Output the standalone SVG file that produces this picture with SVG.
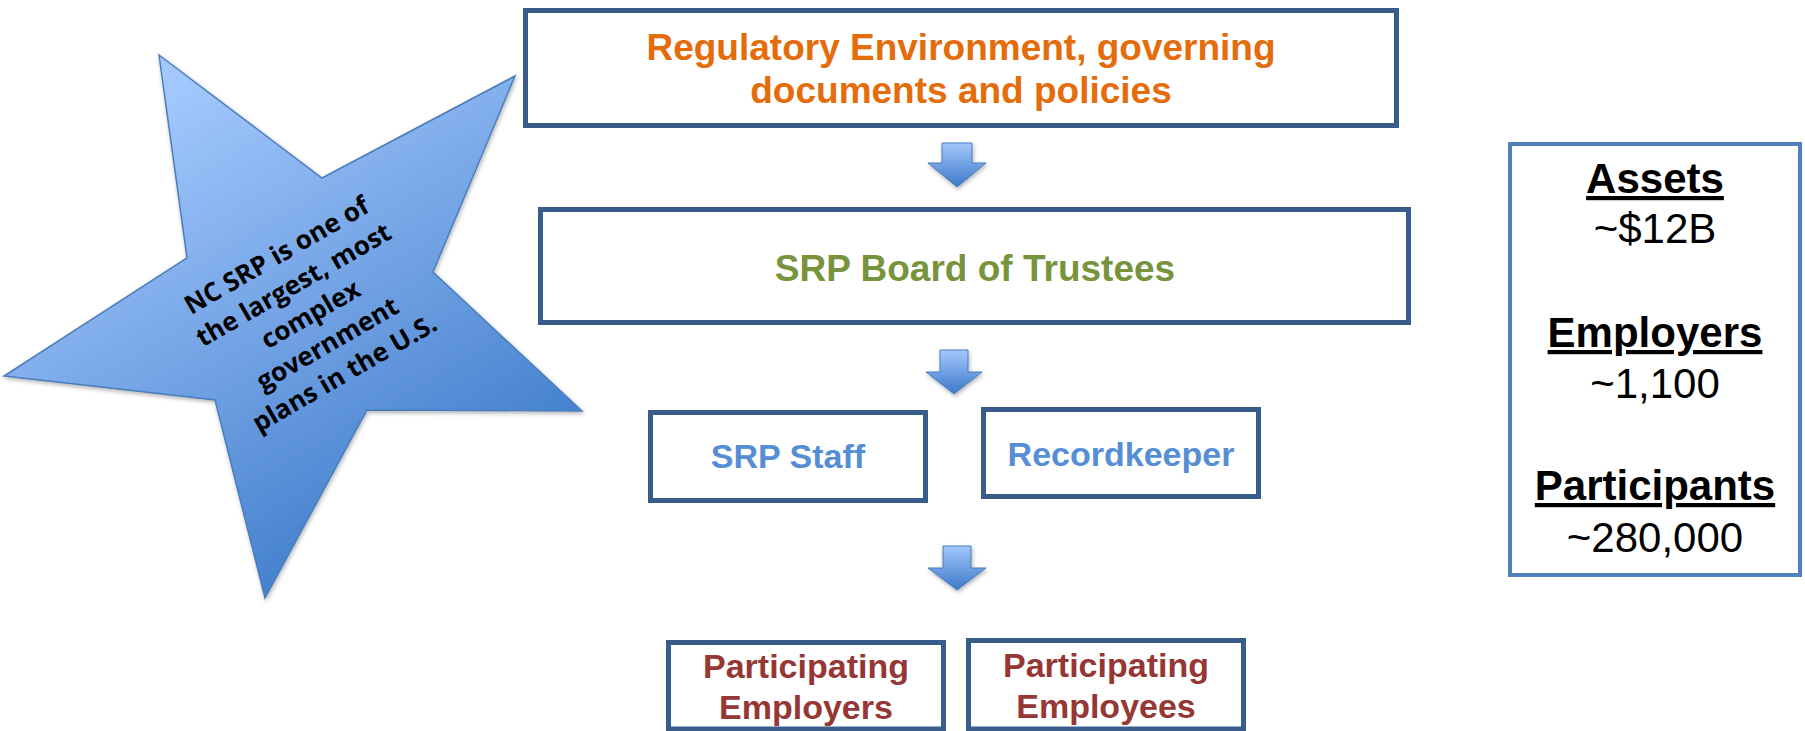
<svg xmlns="http://www.w3.org/2000/svg" width="1805" height="731" viewBox="0 0 1805 731">
<defs>
<linearGradient id="starGrad" gradientUnits="userSpaceOnUse" x1="170" y1="90" x2="440" y2="560">
<stop offset="0" stop-color="#a3c8fd"/>
<stop offset="1" stop-color="#3b79c9"/>
</linearGradient>
<linearGradient id="arrowGrad" x1="0" y1="0" x2="0" y2="1">
<stop offset="0" stop-color="#a3c8fd"/>
<stop offset="1" stop-color="#3b79c9"/>
</linearGradient>
<filter id="shadow" x="-10%" y="-10%" width="130%" height="130%">
<feDropShadow dx="1" dy="2" stdDeviation="2" flood-color="#000" flood-opacity="0.3"/>
</filter>
<style>
.box{fill:#fff;stroke:#385d8a;stroke-width:5}
.stat{fill:#fff;stroke:#4f81bd;stroke-width:4}
.arrow{fill:url(#arrowGrad);stroke:#4a7ebb;stroke-width:1;filter:url(#shadow)}
.t{font-family:"Liberation Sans",Arial,sans-serif;font-weight:bold;text-anchor:middle}
.orange{fill:#e46c0a;font-size:37px}
.green{fill:#77933c;font-size:37px}
.blue{fill:#558ed5;font-size:34px}
.red{fill:#953735;font-size:34px}
.sh{fill:#000;font-size:42px;text-decoration:underline}
.sv{font-family:"Liberation Sans",Arial,sans-serif;font-size:42px;fill:#000;text-anchor:middle}
.star{font-family:"Open Sans","Noto Sans",sans-serif;font-weight:bold;font-size:26px;fill:#000;text-anchor:middle}
</style>
</defs>

<g id="star">
<polygon points="159,55 322,178 515,76 433,272 582,411 367,410 265,598 215,400 4,376 187,258" fill="url(#starGrad)" stroke="#4a7ebb" stroke-width="1.5" filter="url(#shadow)"/>
<g transform="translate(315,322) rotate(-30)">
<text class="star" x="0" y="-68">NC SRP is one of</text>
<text class="star" x="0" y="-34">the largest, most</text>
<text class="star" x="0" y="0">complex</text>
<text class="star" x="0" y="34">government</text>
<text class="star" x="0" y="68">plans in the U.S.</text>
</g>
</g>

<g id="connectors">
<path class="arrow" d="M942,143 H972 V163 H986 L957,187 L928,163 H942 Z"/>
<path class="arrow" d="M940,350 H968 V372 H982 L954,394 L926,372 H940 Z"/>
<path class="arrow" d="M943,546 H971 V568 H986 L957,590 L928,568 H943 Z"/>
</g>

<g id="regulatory">
<rect class="box" x="525.5" y="10.5" width="871" height="115"/>
<text class="t orange" x="961" y="60">Regulatory Environment, governing</text>
<text class="t orange" x="961" y="103">documents and policies</text>
</g>

<g id="board">
<rect class="box" x="540.5" y="209.5" width="868" height="113"/>
<text class="t green" x="975" y="281">SRP Board of Trustees</text>
</g>

<g id="staff">
<rect class="box" x="650.5" y="412.5" width="275" height="88"/>
<text class="t blue" x="788" y="468">SRP Staff</text>
</g>

<g id="recordkeeper">
<rect class="box" x="983.5" y="409.5" width="275" height="87"/>
<text class="t blue" x="1121" y="466">Recordkeeper</text>
</g>

<g id="employers">
<rect class="box" x="668.5" y="642.5" width="275" height="86.5"/>
<text class="t red" x="806" y="678">Participating</text>
<text class="t red" x="806" y="719">Employers</text>
</g>

<g id="employees">
<rect class="box" x="968.5" y="640.5" width="275" height="88.5"/>
<text class="t red" x="1106" y="677">Participating</text>
<text class="t red" x="1106" y="718">Employees</text>
</g>

<g id="stats">
<rect class="stat" x="1510" y="144" width="290" height="431"/>
<text class="t sh" x="1655" y="193">Assets</text>
<text class="sv" x="1655" y="243">~$12B</text>
<text class="t sh" x="1655" y="347">Employers</text>
<text class="sv" x="1655" y="398">~1,100</text>
<text class="t sh" x="1655" y="500">Participants</text>
<text class="sv" x="1655" y="552">~280,000</text>
</g>
</svg>
